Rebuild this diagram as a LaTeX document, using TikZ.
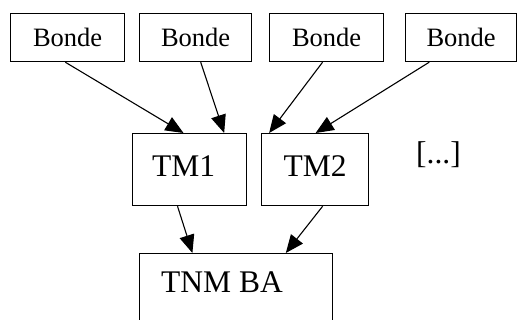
\documentclass[tikz,border=0pt]{standalone}
\usepackage{fontspec}
\setmainfont{Liberation Serif}
\usetikzlibrary{arrows.meta,calc}
\tikzset{
  box/.style={draw=black, line width=1.2pt, rectangle, inner sep=0pt, anchor=north west},
  conn/.style={draw=black, line width=1.1pt, -{Triangle[length=18pt,width=15pt]}},
  small/.style={font=\fontsize{26.5}{30}\selectfont},
  big/.style={font=\fontsize{31.5}{34}\selectfont}
}
\begin{document}
\begin{tikzpicture}[x=1pt,y=-1pt]
\clip (0,0) rectangle (517,320);
\fill[white] (0,0) rectangle (517,320);
\node[box,small,minimum width=114pt,minimum height=48pt] (b1) at (10,13) {Bonde};
\node[box,small,minimum width=112pt,minimum height=48pt] (b2) at (139,13) {Bonde};
\node[box,small,minimum width=114pt,minimum height=48pt] (b3) at (269,13) {Bonde};
\node[box,small,minimum width=111pt,minimum height=48pt] (b4) at (405,13) {Bonde};
\node[box,big,minimum width=114pt,minimum height=72pt] (tm1) at (132,133) {TM1\hspace{12pt}\vphantom{g}};
\node[box,big,minimum width=107pt,minimum height=72pt] (tm2) at (261,133) {TM2\vphantom{g}};
\node[box,minimum width=193pt,minimum height=95pt] (tnm) at (139,253) {};
\node[big,anchor=base west,inner sep=0pt] (tnmtext) at (161,293) {TNM BA};
\node[big,anchor=base west,inner sep=0pt] (dots) at (416,164) {[...]};
\draw[conn] ($(b1.south west)!0.48!(b1.south east)$) -- ($(tm1.north west)!0.447!(tm1.north east)$);
\draw[conn] ($(b2.south west)!0.545!(b2.south east)$) -- ($(tm1.north west)!0.80!(tm1.north east)$);
\draw[conn] ($(b3.south west)!0.465!(b3.south east)$) -- ($(tm2.north west)!0.075!(tm2.north east)$);
\draw[conn] ($(b4.south west)!0.216!(b4.south east)$) -- ($(tm2.north west)!0.505!(tm2.north east)$);
\draw[conn] ($(tm1.south west)!0.395!(tm1.south east)$) -- ($(tnm.north west)!0.275!(tnm.north east)$);
\draw[conn] ($(tm2.south west)!0.57!(tm2.south east)$) -- ($(tnm.north west)!0.756!(tnm.north east)$);
\end{tikzpicture}
\end{document}
